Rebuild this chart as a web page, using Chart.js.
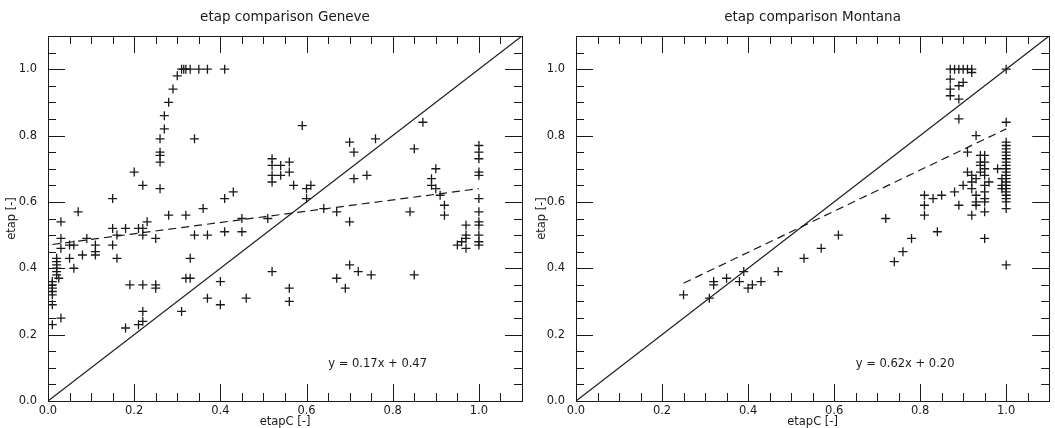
<!DOCTYPE html>
<html>
<head>
<meta charset="utf-8">
<script src="https://cdn.jsdelivr.net/npm/chart.js@4"></script>
<style>
  body { margin: 0; background: #fff; }
  #wrap { display: flex; width: 1055px; height: 428px; }
</style>
</head>
<body>
<div id="wrap">
  <canvas id="c-geneve" width="530" height="428"></canvas>
  <canvas id="c-montana" width="525" height="428"></canvas>
</div>
<script>
// etapC (x) vs etap (y)
const GENEVE_X = [
  0.30, 0.31, 0.315, 0.32, 0.33, 0.35, 0.37, 0.41,
  0.29, 0.28, 0.27, 0.27, 0.26, 0.26, 0.26, 0.26, 0.26,
  0.34, 0.20, 0.22, 0.15, 0.07, 0.03, 0.03, 0.03,
  0.02, 0.02, 0.02, 0.02, 0.02, 0.02, 0.025,
  0.01, 0.01, 0.01, 0.01, 0.01, 0.01, 0.01, 0.03,
  0.05, 0.06, 0.05, 0.06, 0.08, 0.09, 0.11, 0.11, 0.11,
  0.15, 0.15, 0.16, 0.16, 0.18, 0.19, 0.21, 0.22, 0.22, 0.23, 0.22, 0.25, 0.25, 0.25,
  0.18, 0.21, 0.22, 0.22,
  0.28, 0.31, 0.32, 0.32, 0.33, 0.33, 0.34, 0.36, 0.37, 0.37, 0.40, 0.40, 0.41, 0.43, 0.41, 0.45, 0.45, 0.46, 0.51, 0.52,
  0.52, 0.52, 0.52, 0.52, 0.54, 0.54, 0.56, 0.56, 0.57, 0.56, 0.56, 0.59, 0.60, 0.60, 0.61, 0.64,
  0.67, 0.67, 0.69, 0.70, 0.71, 0.71, 0.70, 0.70, 0.72, 0.74, 0.75, 0.76,
  0.84, 0.85, 0.85, 0.87, 0.90, 0.89, 0.89, 0.90, 0.91, 0.92, 0.92,
  0.95, 0.96, 0.97, 0.97, 0.97, 0.97,
  1.0, 1.0, 1.0, 1.0, 1.0, 1.0, 1.0, 1.0, 1.0, 1.0, 1.0, 1.0
];
const GENEVE_Y = [
  0.98, 1.0, 1.0, 1.0, 1.0, 1.0, 1.0, 1.0,
  0.94, 0.90, 0.86, 0.82, 0.79, 0.75, 0.74, 0.72, 0.64,
  0.79, 0.69, 0.65, 0.61, 0.57, 0.54, 0.49, 0.46,
  0.43, 0.42, 0.41, 0.40, 0.39, 0.38, 0.37,
  0.36, 0.35, 0.34, 0.33, 0.32, 0.29, 0.23, 0.25,
  0.47, 0.47, 0.43, 0.40, 0.44, 0.49, 0.47, 0.45, 0.44,
  0.52, 0.47, 0.50, 0.43, 0.52, 0.35, 0.52, 0.52, 0.50, 0.54, 0.35, 0.35, 0.34, 0.49,
  0.22, 0.23, 0.24, 0.27,
  0.56, 0.27, 0.56, 0.37, 0.37, 0.43, 0.50, 0.58, 0.50, 0.31, 0.36, 0.29, 0.61, 0.63, 0.51, 0.51, 0.55, 0.31, 0.55, 0.39,
  0.73, 0.71, 0.68, 0.66, 0.71, 0.68, 0.72, 0.69, 0.65, 0.34, 0.30, 0.83, 0.64, 0.61, 0.65, 0.58,
  0.57, 0.37, 0.34, 0.78, 0.75, 0.67, 0.54, 0.41, 0.39, 0.68, 0.38, 0.79,
  0.57, 0.76, 0.38, 0.84, 0.70, 0.67, 0.65, 0.64, 0.62, 0.59, 0.56,
  0.47, 0.48, 0.50, 0.53, 0.46, 0.49,
  0.77, 0.75, 0.73, 0.69, 0.68, 0.61, 0.57, 0.54, 0.53, 0.50, 0.48, 0.47
];

const MONTANA_X = [
  0.25, 0.31, 0.32, 0.32, 0.35, 0.38, 0.39, 0.40, 0.41, 0.43, 0.47, 0.53, 0.57, 0.61,
  0.72, 0.74, 0.76, 0.78, 0.81, 0.81, 0.81, 0.83, 0.84, 0.85, 0.88, 0.89, 0.90, 0.91, 0.93, 0.92,
  0.91, 0.92, 0.92, 0.92, 0.93, 0.93, 0.93, 0.93, 0.94, 0.94, 0.94, 0.94,
  0.95, 0.95, 0.95, 0.95, 0.95, 0.95, 0.95, 0.95, 0.95, 0.96, 0.98, 0.95,
  0.87, 0.88, 0.89, 0.90, 0.91, 0.92, 0.92, 0.87, 0.87, 0.87, 0.89, 0.90, 0.89, 0.89, 1.0, 1.0,
  1.0, 1.0, 1.0, 1.0, 1.0, 1.0, 1.0, 1.0, 1.0, 1.0, 1.0, 1.0, 1.0, 1.0, 1.0, 1.0, 1.0, 1.0, 1.0, 1.0, 1.0,
  0.99, 0.99, 0.99
];
const MONTANA_Y = [
  0.32, 0.31, 0.36, 0.35, 0.37, 0.36, 0.39, 0.34, 0.35, 0.36, 0.39, 0.43, 0.46, 0.50,
  0.55, 0.42, 0.45, 0.49, 0.62, 0.59, 0.56, 0.61, 0.51, 0.62, 0.63, 0.59, 0.65, 0.75, 0.80, 0.56,
  0.69, 0.68, 0.66, 0.64, 0.67, 0.62, 0.60, 0.59, 0.74, 0.72, 0.71, 0.69,
  0.74, 0.72, 0.70, 0.68, 0.65, 0.63, 0.61, 0.60, 0.57, 0.66, 0.70, 0.49,
  1.0, 1.0, 1.0, 1.0, 1.0, 1.0, 0.99, 0.97, 0.94, 0.92, 0.95, 0.96, 0.91, 0.85, 1.0, 0.84,
  0.78, 0.77, 0.76, 0.75, 0.74, 0.73, 0.72, 0.71, 0.70, 0.69, 0.68, 0.67, 0.66, 0.65, 0.64, 0.63, 0.62, 0.61, 0.60, 0.58, 0.41,
  0.67, 0.65, 0.64
];

// regression shown in the figure
const FIT_GENEVE = { slope: 0.17, intercept: 0.47 };
const FIT_MONTANA = { slope: 0.62, intercept: 0.20 };

const MAJOR_TICKS = [0.0, 0.2, 0.4, 0.6, 0.8, 1.0];
const MINOR_TICKS = [0.05, 0.1, 0.15, 0.25, 0.3, 0.35, 0.45, 0.5, 0.55, 0.65, 0.7, 0.75, 0.85, 0.9, 0.95, 1.05];
const AXIS_MAX = 1.1;

const INK = '#1a1a1a';
const FAMILY = "'DejaVu Sans', sans-serif";

// moldura com ticks para dentro nos 4 lados + titulo + equacao
const framePlugin = {
  id: 'frame',
  afterDraw(chart, args, opts) {
    const { ctx, chartArea: a, scales: { x, y } } = chart;
    ctx.save();
    ctx.strokeStyle = INK;
    ctx.lineWidth = 1;
    ctx.strokeRect(Math.round(a.left) + 0.5, Math.round(a.top) + 0.5,
      Math.round(a.right - a.left), Math.round(a.bottom - a.top));
    const marca = (vals, len) => {
      ctx.beginPath();
      vals.forEach(v => {
        const px = Math.round(x.getPixelForValue(v)) + 0.5;
        ctx.moveTo(px, a.bottom); ctx.lineTo(px, a.bottom - len);
        ctx.moveTo(px, a.top); ctx.lineTo(px, a.top + len);
        const py = Math.round(y.getPixelForValue(v)) + 0.5;
        ctx.moveTo(a.left, py); ctx.lineTo(a.left + len, py);
        ctx.moveTo(a.right, py); ctx.lineTo(a.right - len, py);
      });
      ctx.stroke();
    };
    marca(MAJOR_TICKS, 17);
    marca(MINOR_TICKS, 8);

    ctx.fillStyle = INK;
    ctx.textAlign = 'center';
    ctx.textBaseline = 'middle';
    ctx.font = `13.5px ${FAMILY}`;
    ctx.fillText(opts.title, (a.left + a.right) / 2, 17);
    ctx.font = `11.5px ${FAMILY}`;
    ctx.fillText(opts.equation, x.getPixelForValue(0.765), y.getPixelForValue(0.11));
    ctx.restore();
  }
};

function renderPainel(canvasId, titulo, xs, ys, fit, yWidth, padRight) {
  const pontos = xs.map((v, i) => ({ x: v, y: ys[i] }));
  const xMin = Math.min(...xs), xMax = Math.max(...xs);
  const linhaFit = [xMin, xMax].map(v => ({ x: v, y: fit.slope * v + fit.intercept }));
  const eq = `y = ${fit.slope.toFixed(2)}x + ${fit.intercept.toFixed(2)}`;
  const tickFont = { family: FAMILY, size: 11.5 };

  return new Chart(document.getElementById(canvasId), {
    type: 'scatter',
    data: {
      datasets: [
        { data: pontos, pointStyle: 'cross', pointRadius: 4.5, borderColor: INK, borderWidth: 1.3, showLine: false },
        { type: 'line', data: [{ x: 0, y: 0 }, { x: AXIS_MAX, y: AXIS_MAX }], showLine: true,
          borderColor: INK, borderWidth: 1.2, pointRadius: 0, fill: false },
        { type: 'line', data: linhaFit, showLine: true, borderColor: INK, borderWidth: 1.2,
          borderDash: [8, 5], pointRadius: 0, fill: false }
      ]
    },
    options: {
      responsive: false, animation: false, events: [],
      layout: { padding: { top: 36, right: padRight, left: 0, bottom: 0 } },
      plugins: {
        legend: { display: false }, tooltip: { enabled: false },
        frame: { title: titulo, equation: eq }
      },
      scales: {
        x: {
          type: 'linear', min: 0, max: AXIS_MAX,
          grid: { display: false, drawTicks: false }, border: { display: false },
          afterBuildTicks: s => { s.ticks = MAJOR_TICKS.map(v => ({ value: v })); },
          afterFit: s => { s.height = 27; },
          ticks: { padding: 3, color: INK, font: tickFont, maxRotation: 0, autoSkip: false, callback: v => v.toFixed(1) },
          title: { display: true, text: 'etapC [-]', color: INK, font: { family: FAMILY, size: 11.5, lineHeight: 1 }, padding: 0 }
        },
        y: {
          type: 'linear', min: 0, max: AXIS_MAX,
          grid: { display: false, drawTicks: false }, border: { display: false },
          afterBuildTicks: s => { s.ticks = MAJOR_TICKS.map(v => ({ value: v })); },
          afterFit: s => { s.width = yWidth; },
          ticks: { padding: 11, color: INK, font: tickFont, autoSkip: false, callback: v => v.toFixed(1) },
          title: { display: true, text: 'etap [-]', color: INK, font: { family: FAMILY, size: 11.5, lineHeight: 1 }, padding: { top: 6, bottom: 0 } }
        }
      }
    },
    plugins: [framePlugin]
  });
}

renderPainel('c-geneve', 'etap comparison Geneve', GENEVE_X, GENEVE_Y, FIT_GENEVE, 48, 8);
renderPainel('c-montana', 'etap comparison Montana', MONTANA_X, MONTANA_Y, FIT_MONTANA, 46, 3);
</script>
</body>
</html>
